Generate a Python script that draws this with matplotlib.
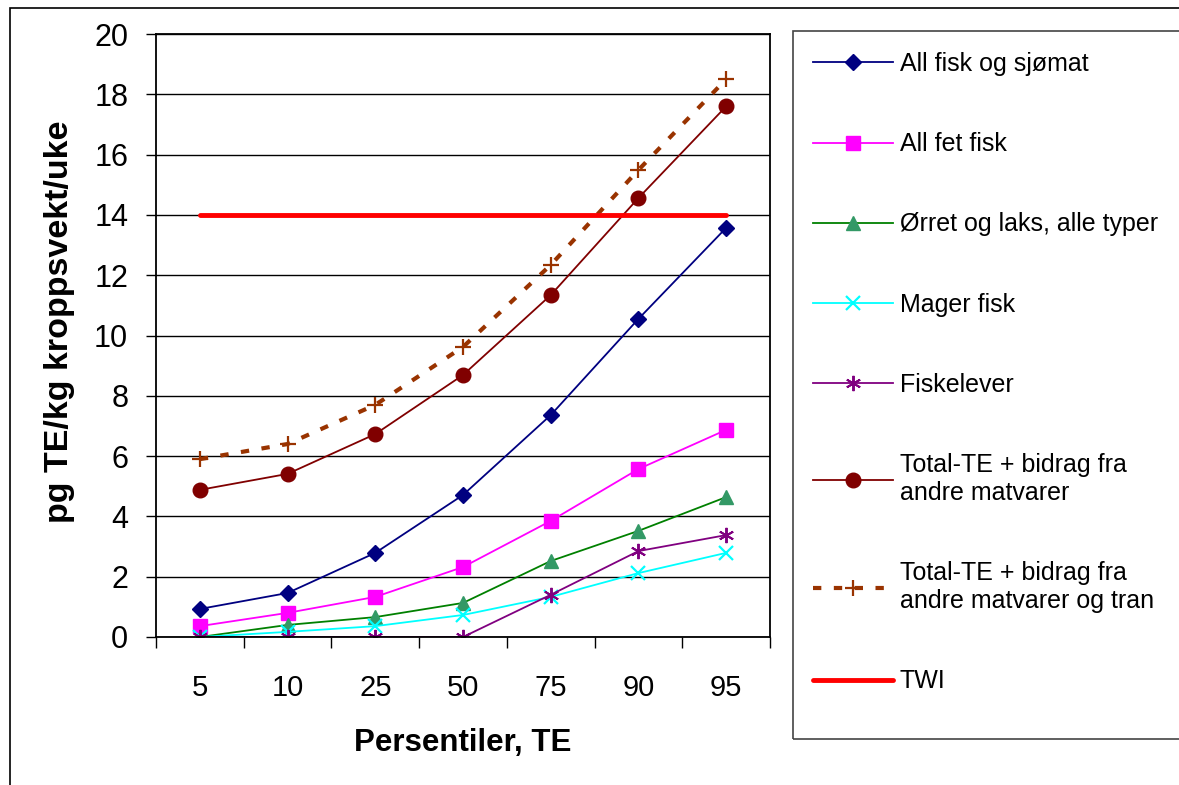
import numpy as np
import matplotlib
matplotlib.use("Agg")
import matplotlib.pyplot as plt
from matplotlib.patches import Rectangle

plt.rcParams['font.family'] = ['Liberation Sans', 'DejaVu Sans']

percentiles = ['5', '10', '25', '50', '75', '90', '95']

all_fisk = [0.93, 1.46, 2.79, 4.71, 7.36, 10.55, 13.57]
fet_fisk = [0.36, 0.80, 1.33, 2.32, 3.85, 5.57, 6.87]
orret_laks = [0.0, 0.40, 0.66, 1.13, 2.52, 3.52, 4.64]
mager_fisk = [0.0, 0.17, 0.36, 0.73, 1.33, 2.12, 2.79]
fiskelever = [0.0, 0.0, 0.0, 0.0, 1.40, 2.85, 3.38]
total_te = [4.88, 5.41, 6.73, 8.69, 11.34, 14.56, 17.60]
total_tran = [5.90, 6.40, 7.70, 9.62, 12.34, 15.49, 18.50]
twi = [14, 14, 14, 14, 14, 14, 14]

labels = ['All fisk og sjømat', 'All fet fisk', 'Ørret og laks, alle typer',
          'Mager fisk', 'Fiskelever', 'Total-TE + bidrag fra\nandre matvarer',
          'Total-TE + bidrag fra\nandre matvarer og tran', 'TWI']

W, H = 1179, 785
fig = plt.figure(figsize=(W / 100, H / 100), dpi=100)
ax = fig.add_axes([156 / W, 1 - 637 / H, (770 - 156) / W, (637 - 34) / H])

x = np.arange(len(percentiles))

ax.plot(x, all_fisk, color='#000080', lw=1.3, marker='D', ms=8, label=labels[0])
ax.plot(x, fet_fisk, color='#FF00FF', lw=1.3, marker='s', ms=9.5, label=labels[1])
ax.plot(x, orret_laks, color='#008000', lw=1.3, marker='^', ms=10,
        mfc='#339966', mec='#339966', label=labels[2])
ax.plot(x, mager_fisk, color='#00FFFF', lw=1.3, marker='x', ms=10, mew=1.6,
        label=labels[3])
ax.plot(x, fiskelever, color='#800080', lw=1.3, marker=(6, 2, 0), ms=11, mew=1.4,
        label=labels[4])
ax.plot(x, total_te, color='#800000', lw=1.3, marker='o', ms=10.5, label=labels[5])
ax.plot(x, total_tran, color='#993300', lw=3, dashes=(2.0, 3.0), marker='+',
        ms=12, mew=1.6, label=labels[6])
ax.plot(x, twi, color='#FF0000', lw=3.5, label=labels[7], solid_capstyle='round')

ax.set_xlim(-0.5, len(percentiles) - 0.5)
ax.set_ylim(0, 20)
ax.set_yticks(np.arange(0, 21, 2))
ax.set_xticks(x)
ax.set_xticklabels(percentiles)
ax.set_xticks(np.arange(-0.5, len(percentiles)), minor=True)
ax.tick_params(axis='x', which='major', length=0, pad=27, labelsize=21)
ax.tick_params(axis='x', which='minor', length=8, width=1, direction='out')
ax.tick_params(axis='y', length=7, width=1, direction='out', pad=13, labelsize=22)
ax.yaxis.grid(True, color='black', lw=1)
ax.set_axisbelow(True)
for s in ax.spines.values():
    s.set_color('black')
    s.set_linewidth(1.3)

ax.set_ylabel('pg TE/kg kroppsvekt/uke', fontsize=24.5, fontweight='bold')
ax.yaxis.set_label_coords(-0.132, 0.522)
ax.set_xlabel('Persentiler, TE', fontsize=22.5, fontweight='bold', labelpad=18)

leg = fig.legend(loc='upper left', bbox_to_anchor=(813 / W, 1 - 52 / H),
                 fontsize=18, frameon=False,
                 handlelength=3.2, handletextpad=0.28, labelspacing=2.25,
                 borderpad=0, borderaxespad=0)

# legend frame, running past the right edge like the original
fig.patches.append(Rectangle((793 / W, 1 - 739 / H), 0.5, (739 - 31) / H,
                             transform=fig.transFigure, fill=False,
                             edgecolor='#444444', lw=1.2))
# outer chart border
fig.patches.append(Rectangle((10 / W, -0.1), 2, 0.1 + 1 - 8 / H, transform=fig.transFigure,
                             fill=False, edgecolor='black', lw=1.2))

fig.savefig('out.png', dpi=100)
